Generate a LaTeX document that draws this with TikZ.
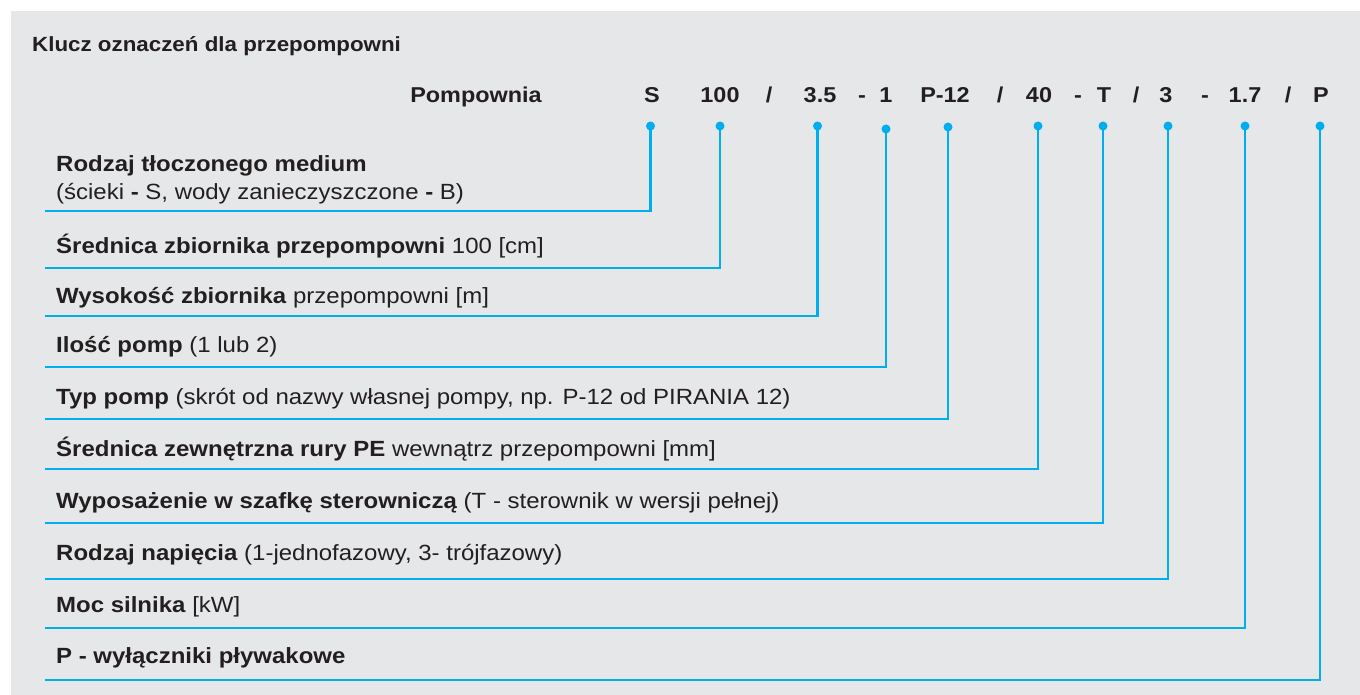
\documentclass[tikz,border=0pt]{standalone}
\usepackage{fontspec}
\setmainfont{Liberation Sans}[FakeStretch=1.09]
\usepackage{tikz}

\definecolor{tlo}{RGB}{230,231,232}
\definecolor{linia}{RGB}{0,174,239}
\definecolor{tekst}{RGB}{35,31,32}

\begin{document}
\begin{tikzpicture}[x=1pt, y=-1pt, every node/.style={text=tekst, inner sep=0pt},
	naglowek/.style={anchor=base west, font=\fontsize{20.5}{24}\selectfont\bfseries},
	kod/.style={anchor=base, font=\fontsize{21.5}{26}\selectfont\bfseries},
	opis/.style={anchor=base west, font=\fontsize{22}{26}\selectfont},
	kropka/.style={circle, fill=linia, minimum size=9pt},
	polaczenie/.style={draw=linia, line width=2.4pt, line join=miter}]
				\fill[white] (0,0) rectangle (1360,695);
				\fill[tlo] (11,11) rectangle (1360,695);
				
				\node[naglowek] (tytul) at (32,52){Klucz oznaczeń dla przepompowni};
				\node[kod] (pomp) at (476,103){Pompownia};
				
				\node[kod] (c1) at (652,103){S};
				\node[kod] (c2) at (720,103){100};
				\node[kod] (s1) at (769,103){/};
				\node[kod] (c3) at (820,103){3.5};
				\node[kod] (s2) at (862,103){-};
				\node[kod] (c4) at (886,103){1};
				\node[kod] (c5) at (945,103){P-12};
				\node[kod] (s3) at (1000,103){/};
				\node[kod] (c6) at (1039,103){40};
				\node[kod] (s4) at (1078,103){-};
				\node[kod] (c7) at (1104,103){T};
				\node[kod] (s5) at (1136,103){/};
				\node[kod] (c8) at (1166,103){3};
				\node[kod] (s6) at (1205,103){-};
				\node[kod] (c9) at (1245,103){1.7};
				\node[kod] (s7) at (1288,103){/};
				\node[kod] (c10) at (1321,103){P};
				
				\node[kropka] (d1) at (650.5,126){};
				\node[kropka] (d2) at (720,126){};
				\node[kropka] (d3) at (817.5,126){};
				\node[kropka] (d4) at (886,129){};
				\node[kropka] (d5) at (948,127){};
				\node[kropka] (d6) at (1038,126){};
				\node[kropka] (d7) at (1103,126){};
				\node[kropka] (d8) at (1168,126){};
				\node[kropka] (d9) at (1245,126){};
				\node[kropka] (d10) at (1320,126){};
				
				\coordinate (k1) at (650.5,211);
				\coordinate (k2) at (720,268);
				\coordinate (k3) at (817.5,316);
				\coordinate (k4) at (886,367);
				\coordinate (k5) at (948,419);
				\coordinate (k6) at (1038,469);
				\coordinate (k7) at (1103,523);
				\coordinate (k8) at (1168,579);
				\coordinate (k9) at (1245,628);
				\coordinate (k10) at (1320,680);
				
				\coordinate (e1) at (45,211);
				\coordinate (e2) at (45,268);
				\coordinate (e3) at (45,316);
				\coordinate (e4) at (45,367);
				\coordinate (e5) at (45,419);
				\coordinate (e6) at (45,469);
				\coordinate (e7) at (45,523);
				\coordinate (e8) at (45,579);
				\coordinate (e9) at (45,628);
				\coordinate (e10) at (45,680);
				
				\node[opis] (t1) at (56,172){\textbf{Rodzaj tłoczonego medium}};
				\node[opis] (t1b) at (56,200){(ścieki \textbf{-} S, wody zanieczyszczone \textbf{-} B)};
				\node[opis] (t2) at (56,253){\textbf{Średnica zbiornika przepompowni} 100 [cm]};
				\node[opis] (t3) at (56,303){\textbf{Wysokość zbiornika} przepompowni [m]};
				\node[opis] (t4) at (56,352){\textbf{Ilość pomp} (1 lub 2)};
				\node[opis] (t5) at (56,404){\textbf{Typ pomp} (skrót od nazwy własnej pompy, np. P-12 od PIRANIA 12)};
				\node[opis] (t6) at (56,456){\textbf{Średnica zewnętrzna rury PE} wewnątrz przepompowni [mm]};
				\node[opis] (t7) at (56,508){\textbf{Wyposażenie w szafkę sterowniczą} (T - sterownik w wersji pełnej)};
				\node[opis] (t8) at (56,560){\textbf{Rodzaj napięcia} (1-jednofazowy, 3- trójfazowy)};
				\node[opis] (t9) at (56,612){\textbf{Moc silnika} [kW]};
				\node[opis] (t10) at (56,663){\textbf{P - wyłączniki pływakowe}};
				
				\path[polaczenie] (d1.center) -- (k1) -- (e1);
				\path[polaczenie] (d2.center) -- (k2) -- (e2);
				\path[polaczenie] (d3.center) -- (k3) -- (e3);
				\path[polaczenie] (d4.center) -- (k4) -- (e4);
				\path[polaczenie] (d5.center) -- (k5) -- (e5);
				\path[polaczenie] (d6.center) -- (k6) -- (e6);
				\path[polaczenie] (d7.center) -- (k7) -- (e7);
				\path[polaczenie] (d8.center) -- (k8) -- (e8);
				\path[polaczenie] (d9.center) -- (k9) -- (e9);
				\path[polaczenie] (d10.center) -- (k10) -- (e10);
\end{tikzpicture}
\end{document}
